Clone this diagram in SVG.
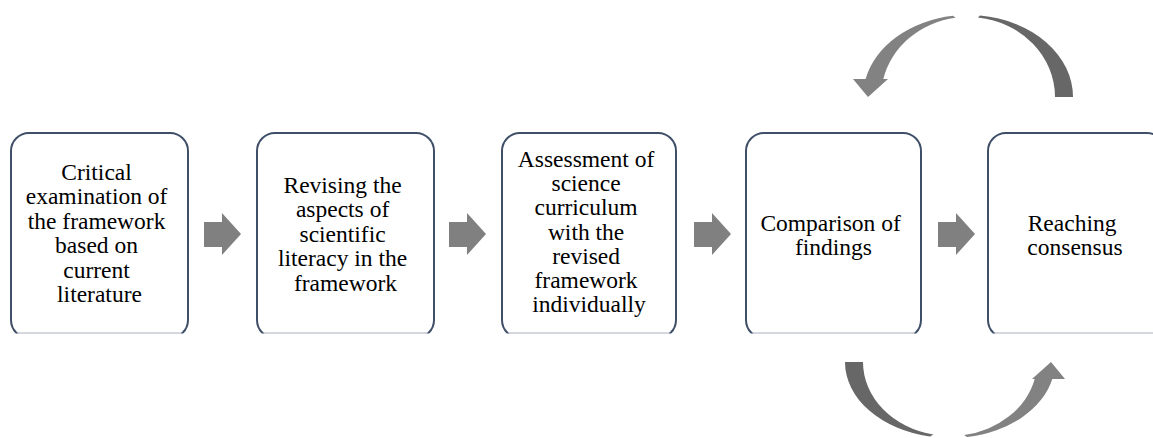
<svg xmlns="http://www.w3.org/2000/svg" width="1153" height="438" viewBox="0 0 1153 438">
  <defs>
    <style>
      .box { fill: #ffffff; stroke: #3f4f68; stroke-width: 2; }
      .cut { stroke: #c6cad2; stroke-width: 1.5; }
      .lbl { font-family: "Liberation Serif", "Times New Roman", serif; font-size: 23.5px; fill: #000000; text-anchor: middle; }
      .blk { fill: #808080; }
      .dark { fill: #676767; }
      .light { fill: #828282; }
    </style>
    <clipPath id="clipTop">
      <rect x="0" y="0" width="1153" height="333.5"/>
    </clipPath>
  </defs>
  <rect x="0" y="0" width="1153" height="438" fill="#ffffff"/>

  <g id="node1">
    <rect class="box" x="11" y="133" width="177" height="205" rx="18" clip-path="url(#clipTop)"/>
    <line class="cut" x1="18" y1="333" x2="181" y2="333"/>
    <text class="lbl" x="99.5" y="180">
      <tspan x="99.5" dy="0">Critical</tspan>
      <tspan x="99.5" dy="24.4">examination of</tspan>
      <tspan x="99.5" dy="24.4">the framework</tspan>
      <tspan x="99.5" dy="24.4">based on</tspan>
      <tspan x="99.5" dy="24.4">current</tspan>
      <tspan x="99.5" dy="24.4">literature</tspan>
    </text>
  </g>

  <g id="node2">
    <rect class="box" x="257" y="133" width="177" height="205" rx="18" clip-path="url(#clipTop)"/>
    <line class="cut" x1="264" y1="333" x2="427" y2="333"/>
    <text class="lbl" x="345.5" y="193">
      <tspan x="345.5" dy="0">Revising the</tspan>
      <tspan x="345.5" dy="24.4">aspects of</tspan>
      <tspan x="345.5" dy="24.4">scientific</tspan>
      <tspan x="345.5" dy="24.4">literacy in the</tspan>
      <tspan x="345.5" dy="24.4">framework</tspan>
    </text>
  </g>

  <g id="node3">
    <rect class="box" x="502" y="133" width="174" height="205" rx="18" clip-path="url(#clipTop)"/>
    <line class="cut" x1="509" y1="333" x2="669" y2="333"/>
    <text class="lbl" x="589" y="167">
      <tspan x="589" dy="0">Assessment of</tspan>
      <tspan x="589" dy="24.2">science</tspan>
      <tspan x="589" dy="24.2">curriculum</tspan>
      <tspan x="589" dy="24.2">with the</tspan>
      <tspan x="589" dy="24.2">revised</tspan>
      <tspan x="589" dy="24.2">framework</tspan>
      <tspan x="589" dy="24.2">individually</tspan>
    </text>
  </g>

  <g id="node4">
    <rect class="box" x="746" y="133" width="175" height="205" rx="18" clip-path="url(#clipTop)"/>
    <line class="cut" x1="753" y1="333" x2="914" y2="333"/>
    <text class="lbl" x="833.5" y="231">
      <tspan x="833.5" dy="0">Comparison of</tspan>
      <tspan x="833.5" dy="24">findings</tspan>
    </text>
  </g>

  <g id="node5">
    <rect class="box" x="988" y="133" width="177" height="205" rx="18" clip-path="url(#clipTop)"/>
    <line class="cut" x1="995" y1="333" x2="1153" y2="333"/>
    <text class="lbl" x="1075" y="231">
      <tspan x="1075" dy="0">Reaching</tspan>
      <tspan x="1075" dy="24">consensus</tspan>
    </text>
  </g>

  <g id="connectors">
    <path class="blk" d="M204,222 L222,222 L222,213 L241,234 L222,255 L222,247 L204,247 Z"/>
    <path class="blk" d="M449,222 L467,222 L467,213 L486,234 L467,255 L467,247 L449,247 Z"/>
    <path class="blk" d="M694,222 L712,222 L712,213 L731,234 L712,255 L712,247 L694,247 Z"/>
    <path class="blk" d="M938,222 L956,222 L956,213 L975,234 L956,255 L956,247 L938,247 Z"/>

    <path class="dark" d="M1073,97 A105,82 0 0 0 980,15.5 L977.9,17.5 A87,80 0 0 1 1055,97 Z"/>
    <path class="light" d="M953,15.8 A105,82 0 0 0 865.6,79 L853,79 L868,97 L888,79 L883.3,79 A87,80 0 0 1 955.6,17.8 Z"/>

    <path class="dark" d="M845,362 A105,76 0 0 0 930,436.6 L933.4,434.6 A87,74 0 0 1 863,362 Z"/>
    <path class="light" d="M967,437 A105,76 0 0 0 1052.3,379 L1065,379 L1051,362 L1032,379 L1034.7,379 A87,74 0 0 1 964.1,435 Z"/>
  </g>
</svg>
